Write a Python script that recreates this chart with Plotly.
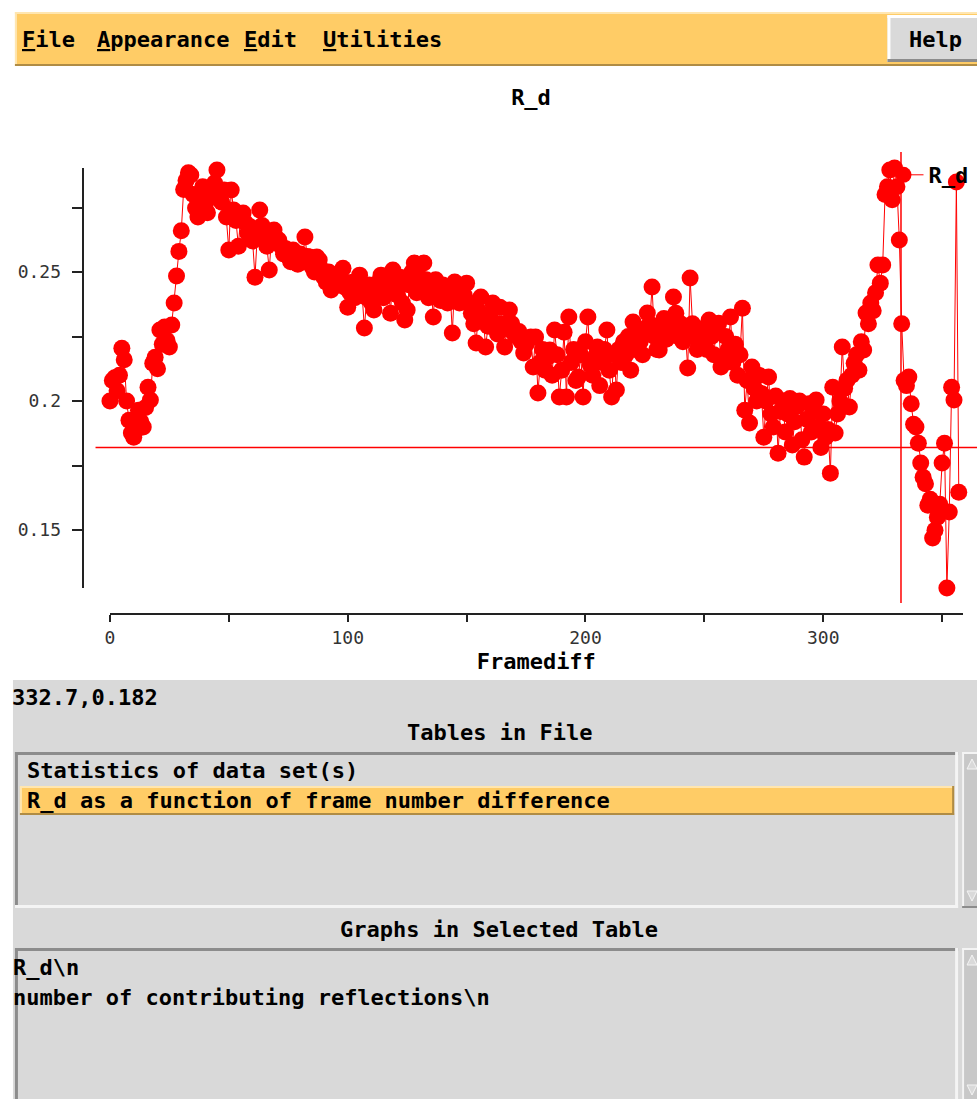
import plotly.graph_objects as go

# ---------------- data ----------------
framediff = list(range(358))
r_d = [
    0.2000, 0.2080, 0.2090, 0.2040, 0.2100, 0.2205, 0.2160, 0.2000, 0.1926, 0.1876,
    0.1860, 0.1888, 0.1965, 0.1920, 0.1900, 0.1975, 0.2054, 0.2004, 0.2147, 0.2170,
    0.2125, 0.2275, 0.2220, 0.2287, 0.2235, 0.2210, 0.2295, 0.2380, 0.2485, 0.2580,
    0.2660, 0.2820, 0.2855, 0.2885, 0.2876, 0.2800, 0.2748, 0.2713, 0.2780, 0.2830,
    0.2760, 0.2730, 0.2800, 0.2790, 0.2845, 0.2895, 0.2810, 0.2770, 0.2818, 0.2713,
    0.2585, 0.2818, 0.2740, 0.2700, 0.2600, 0.2720, 0.2729, 0.2690, 0.2650, 0.2675,
    0.2620, 0.2480, 0.2651, 0.2740, 0.2680, 0.2630, 0.2600, 0.2508, 0.2640, 0.2663,
    0.2630, 0.2624, 0.2600, 0.2570, 0.2590, 0.2560, 0.2540, 0.2585, 0.2550, 0.2530,
    0.2570, 0.2540, 0.2636, 0.2560, 0.2558, 0.2520, 0.2500, 0.2558, 0.2547, 0.2510,
    0.2480, 0.2460, 0.2500, 0.2430, 0.2470, 0.2490, 0.2450, 0.2480, 0.2515, 0.2440,
    0.2364, 0.2420, 0.2460, 0.2400, 0.2430, 0.2488, 0.2420, 0.2283, 0.2400, 0.2450,
    0.2380, 0.2353, 0.2420, 0.2460, 0.2488, 0.2400, 0.2440, 0.2470, 0.2340, 0.2508,
    0.2450, 0.2410, 0.2480, 0.2380, 0.2314, 0.2353, 0.2450, 0.2500, 0.2535, 0.2420,
    0.2480, 0.2440, 0.2535, 0.2470, 0.2400, 0.2450, 0.2326, 0.2470, 0.2430, 0.2390,
    0.2450, 0.2420, 0.2380, 0.2440, 0.2264, 0.2461, 0.2420, 0.2380, 0.2430, 0.2410,
    0.2457, 0.2380, 0.2340, 0.2300, 0.2225, 0.2350, 0.2403, 0.2320, 0.2210, 0.2290,
    0.2340, 0.2380, 0.2300, 0.2260, 0.2364, 0.2300, 0.2210, 0.2280, 0.2353, 0.2300,
    0.2260, 0.2250, 0.2270, 0.2230, 0.2186, 0.2220, 0.2240, 0.2248, 0.2132, 0.2248,
    0.2031, 0.2150, 0.2200, 0.2120, 0.2170, 0.2198, 0.2100, 0.2275, 0.2180, 0.2016,
    0.2120, 0.2267, 0.2016, 0.2326, 0.2150, 0.2200, 0.2080, 0.2093, 0.2180, 0.2016,
    0.2230, 0.2326, 0.2140, 0.2100, 0.2170, 0.2210, 0.2060, 0.2150, 0.2200, 0.2275,
    0.2120, 0.2016, 0.2180, 0.2043, 0.2200, 0.2150, 0.2230, 0.2180, 0.2250, 0.2120,
    0.2306, 0.2200, 0.2260, 0.2230, 0.2180, 0.2280, 0.2341, 0.2300, 0.2442, 0.2250,
    0.2200, 0.2198, 0.2280, 0.2320, 0.2240, 0.2300, 0.2260, 0.2403, 0.2340, 0.2250,
    0.2300, 0.2230, 0.2270, 0.2128, 0.2477, 0.2300, 0.2250, 0.2200, 0.2280, 0.2240,
    0.2260, 0.2200, 0.2314, 0.2250, 0.2180, 0.2280, 0.2302, 0.2132, 0.2147, 0.2250,
    0.2200, 0.2326, 0.2150, 0.2220, 0.2100, 0.2180, 0.2360, 0.1965, 0.2080, 0.1915,
    0.2132, 0.2050, 0.2000, 0.2100, 0.2030, 0.1860, 0.2000, 0.2093, 0.1950, 0.1900,
    0.2020, 0.1798, 0.1960, 0.2000, 0.1880, 0.1950, 0.2010, 0.1830, 0.1920, 0.1980,
    0.2000, 0.1850, 0.1783, 0.1930, 0.1990, 0.1880, 0.1960, 0.2004, 0.1900, 0.1820,
    0.1950, 0.1860, 0.1890, 0.1721, 0.2054, 0.1876, 0.1950, 0.2000, 0.2210, 0.2050,
    0.2081, 0.1977, 0.2100, 0.2147, 0.2180, 0.2120, 0.2230, 0.2198, 0.2341, 0.2300,
    0.2380, 0.2350, 0.2420, 0.2527, 0.2457, 0.2527, 0.2800, 0.2830, 0.2895, 0.2780,
    0.2903, 0.2830, 0.2624, 0.2300, 0.2080, 0.2060, 0.2093, 0.1990, 0.1910, 0.1900,
    0.1837, 0.1760, 0.1705, 0.1680, 0.1597, 0.1620, 0.1470, 0.1500, 0.1550, 0.1600,
    0.1760, 0.1837, 0.1276, 0.1570, 0.2054, 0.2004, 0.2849, 0.1647,
]
series_name = "R_d"
graph_title = "R_d"
x_title = "Framediff"
cursor_x = 332.7
cursor_y = 0.182
x_tickvals = [0, 50, 100, 150, 200, 250, 300, 350]
x_ticktext = ["0", "", "100", "", "200", "", "300", ""]
y_tickvals = [0.15, 0.175, 0.2, 0.225, 0.25, 0.275]
y_ticktext = ["0.15", "", "0.2", "", "0.25", ""]
x_range = [0, 358.6]

tables_in_file = ["Statistics of data set(s)",
                  "R_d as a function of frame number difference"]
graphs_in_table = ["R_d\\n", "number of contributing reflections\\n"]
menu_items = ["<u>F</u>ile", "<u>A</u>ppearance", "<u>E</u>dit", "<u>U</u>tilities"]

# ---------------- styling helpers ----------------
W, H = 977, 1099
GUI = "DejaVu Sans Mono"
RED = "#ff0000"
ORANGE = "#ffcc66"
GRAY = "#d9d9d9"
DARK = "#8c8c8c"
TXT_SHIFT = 7  # annotation left padding compensation


def px(x):
    return x / W


def py(y):
    return 1 - y / H


fig = go.Figure()
fig.add_trace(go.Scatter(
    x=framediff, y=r_d, mode="lines+markers", name=series_name,
    line=dict(color=RED, width=1),
    marker=dict(color=RED, size=17, symbol="circle", line=dict(width=0)),
    cliponaxis=False, showlegend=True,
))

shapes = []
annotations = []


def rect(x0, y0, x1, y1, fill):
    shapes.append(dict(type="rect", xref="paper", yref="paper",
                       x0=px(x0), x1=px(x1), y0=py(y1), y1=py(y0),
                       fillcolor=fill, line=dict(width=0), layer="below"))


def hline(x0, x1, y, color, w):
    shapes.append(dict(type="line", xref="paper", yref="paper",
                       x0=px(x0), x1=px(x1), y0=py(y), y1=py(y),
                       line=dict(color=color, width=w), layer="below"))


def vline(x, y0, y1, color, w):
    shapes.append(dict(type="line", xref="paper", yref="paper",
                       x0=px(x), x1=px(x), y0=py(y0), y1=py(y1),
                       line=dict(color=color, width=w), layer="below"))


def bevel(x0, y0, x1, y1, light, dark, w=2):
    hline(x0, x1, y0 + w / 2, light, w)
    vline(x0 + w / 2, y0, y1, light, w)
    hline(x0, x1, y1 - w / 2, dark, w)
    vline(x1 - w / 2, y0, y1, dark, w)


def tri(xc, yc, up, color):
    s = 5
    if up:
        path = f"M{px(xc - s)},{py(yc + s)} L{px(xc + s)},{py(yc + s)} L{px(xc)},{py(yc - s)} Z"
    else:
        path = f"M{px(xc - s)},{py(yc - s)} L{px(xc + s)},{py(yc - s)} L{px(xc)},{py(yc + s)} Z"
    shapes.append(dict(type="path", xref="paper", yref="paper", path=path,
                       fillcolor=color, line=dict(width=1, color="#f4f4f4"), layer="below"))


def text(s, x, y, anchor="left", size=22, bold=True, color="black"):
    if anchor == "left":
        x -= TXT_SHIFT
    annotations.append(dict(text=s, xref="paper", yref="paper", x=px(x), y=py(y),
                            xanchor=anchor, yanchor="middle", showarrow=False,
                            font=dict(family=GUI, size=size, color=color,
                                      weight="bold" if bold else "normal")))


# menubar
rect(10, 12, 977, 66, ORANGE)
bevel(10, 12, 980, 66, "#ffe6b0", "#b08c44", 2)
menu_x = [22, 97, 245, 325]
for m, mx in zip(menu_items, menu_x):
    text(m, mx, 39)
rect(887, 15, 977, 62, GRAY)
bevel(887, 15, 980, 62, "#ffffff", "#8c8c8c", 3)
text("Help", 935, 39, anchor="center")

# lower panel
rect(8, 680, 977, 1099, GRAY)
text(f"{cursor_x},{cursor_y}", 12, 697)
text("Tables in File", 497, 732, anchor="center")
rect(10, 752, 958, 908, GRAY)
bevel(10, 752, 958, 908, DARK, "#f4f4f4", 3)
rect(15, 786, 954, 815, ORANGE)
bevel(15, 786, 954, 815, "#ffe6b0", "#b08c44", 2)
for i, t in enumerate(tables_in_file):
    text(t, 27, 770 + 30 * i)
rect(962, 752, 977, 908, "#c8c8c8")
bevel(962, 752, 980, 908, "#f4f4f4", DARK, 2)
tri(972, 764, True, "#d9d9d9")
tri(972, 896, False, "#d9d9d9")
text("Graphs in Selected Table", 497, 929, anchor="center")
rect(10, 948, 958, 1099, GRAY)
bevel(10, 948, 958, 1110, DARK, "#f4f4f4", 3)
for i, t in enumerate(graphs_in_table):
    text(t, 13, 967 + 30 * i)
rect(962, 948, 977, 1099, "#c8c8c8")
bevel(962, 948, 980, 1110, "#f4f4f4", DARK, 2)
tri(972, 960, True, "#d9d9d9")
tri(972, 1090, False, "#d9d9d9")

# crosshair cursor
shapes.append(dict(type="line", xref="x", yref="paper", x0=cursor_x, x1=cursor_x,
                   y0=py(603), y1=py(152), line=dict(color=RED, width=1.5), layer="above"))
shapes.append(dict(type="line", xref="paper", yref="y", x0=px(91), x1=px(977),
                   y0=cursor_y, y1=cursor_y, line=dict(color=RED, width=1.5), layer="above"))

tick_font = dict(family=GUI, size=18, color="#333333")
fig.update_layout(
    width=W, height=H, autosize=False,
    margin=dict(l=0, r=0, t=0, b=0),
    paper_bgcolor="white", plot_bgcolor="white",
    title=dict(text=graph_title, x=px(531), xanchor="center", y=py(97), yanchor="middle",
               font=dict(family=GUI, size=22, color="black", weight="bold")),
    xaxis=dict(domain=[px(105.5), px(962.5)], range=x_range, anchor="free", position=py(614),
               showline=True, linecolor="#222222", linewidth=2, ticks="outside", ticklen=7,
               tickwidth=2, tickcolor="#222222", tickvals=x_tickvals, ticktext=x_ticktext,
               tickfont=tick_font, showgrid=False, zeroline=False, ticklabelstandoff=0,
               title=dict(text=x_title, standoff=6,
                          font=dict(family=GUI, size=22, color="black", weight="bold"))),
    yaxis=dict(domain=[py(588), py(168)], range=[min(r_d), max(r_d)], anchor="free",
               position=px(78), showline=True, linecolor="#222222", linewidth=2,
               ticks="outside", ticklen=10, tickwidth=2, tickcolor="#222222",
               tickvals=y_tickvals, ticktext=y_ticktext, tickfont=tick_font,
               ticklabelstandoff=7, showgrid=False, zeroline=False),
    legend=dict(x=px(878), y=py(175), xanchor="left", yanchor="middle",
                bgcolor="rgba(0,0,0,0)", itemwidth=40,
                font=dict(family=GUI, size=22, color="black", weight="bold")),
    shapes=shapes, annotations=annotations,
)

fig.write_html("out.html", config={"displayModeBar": False})
